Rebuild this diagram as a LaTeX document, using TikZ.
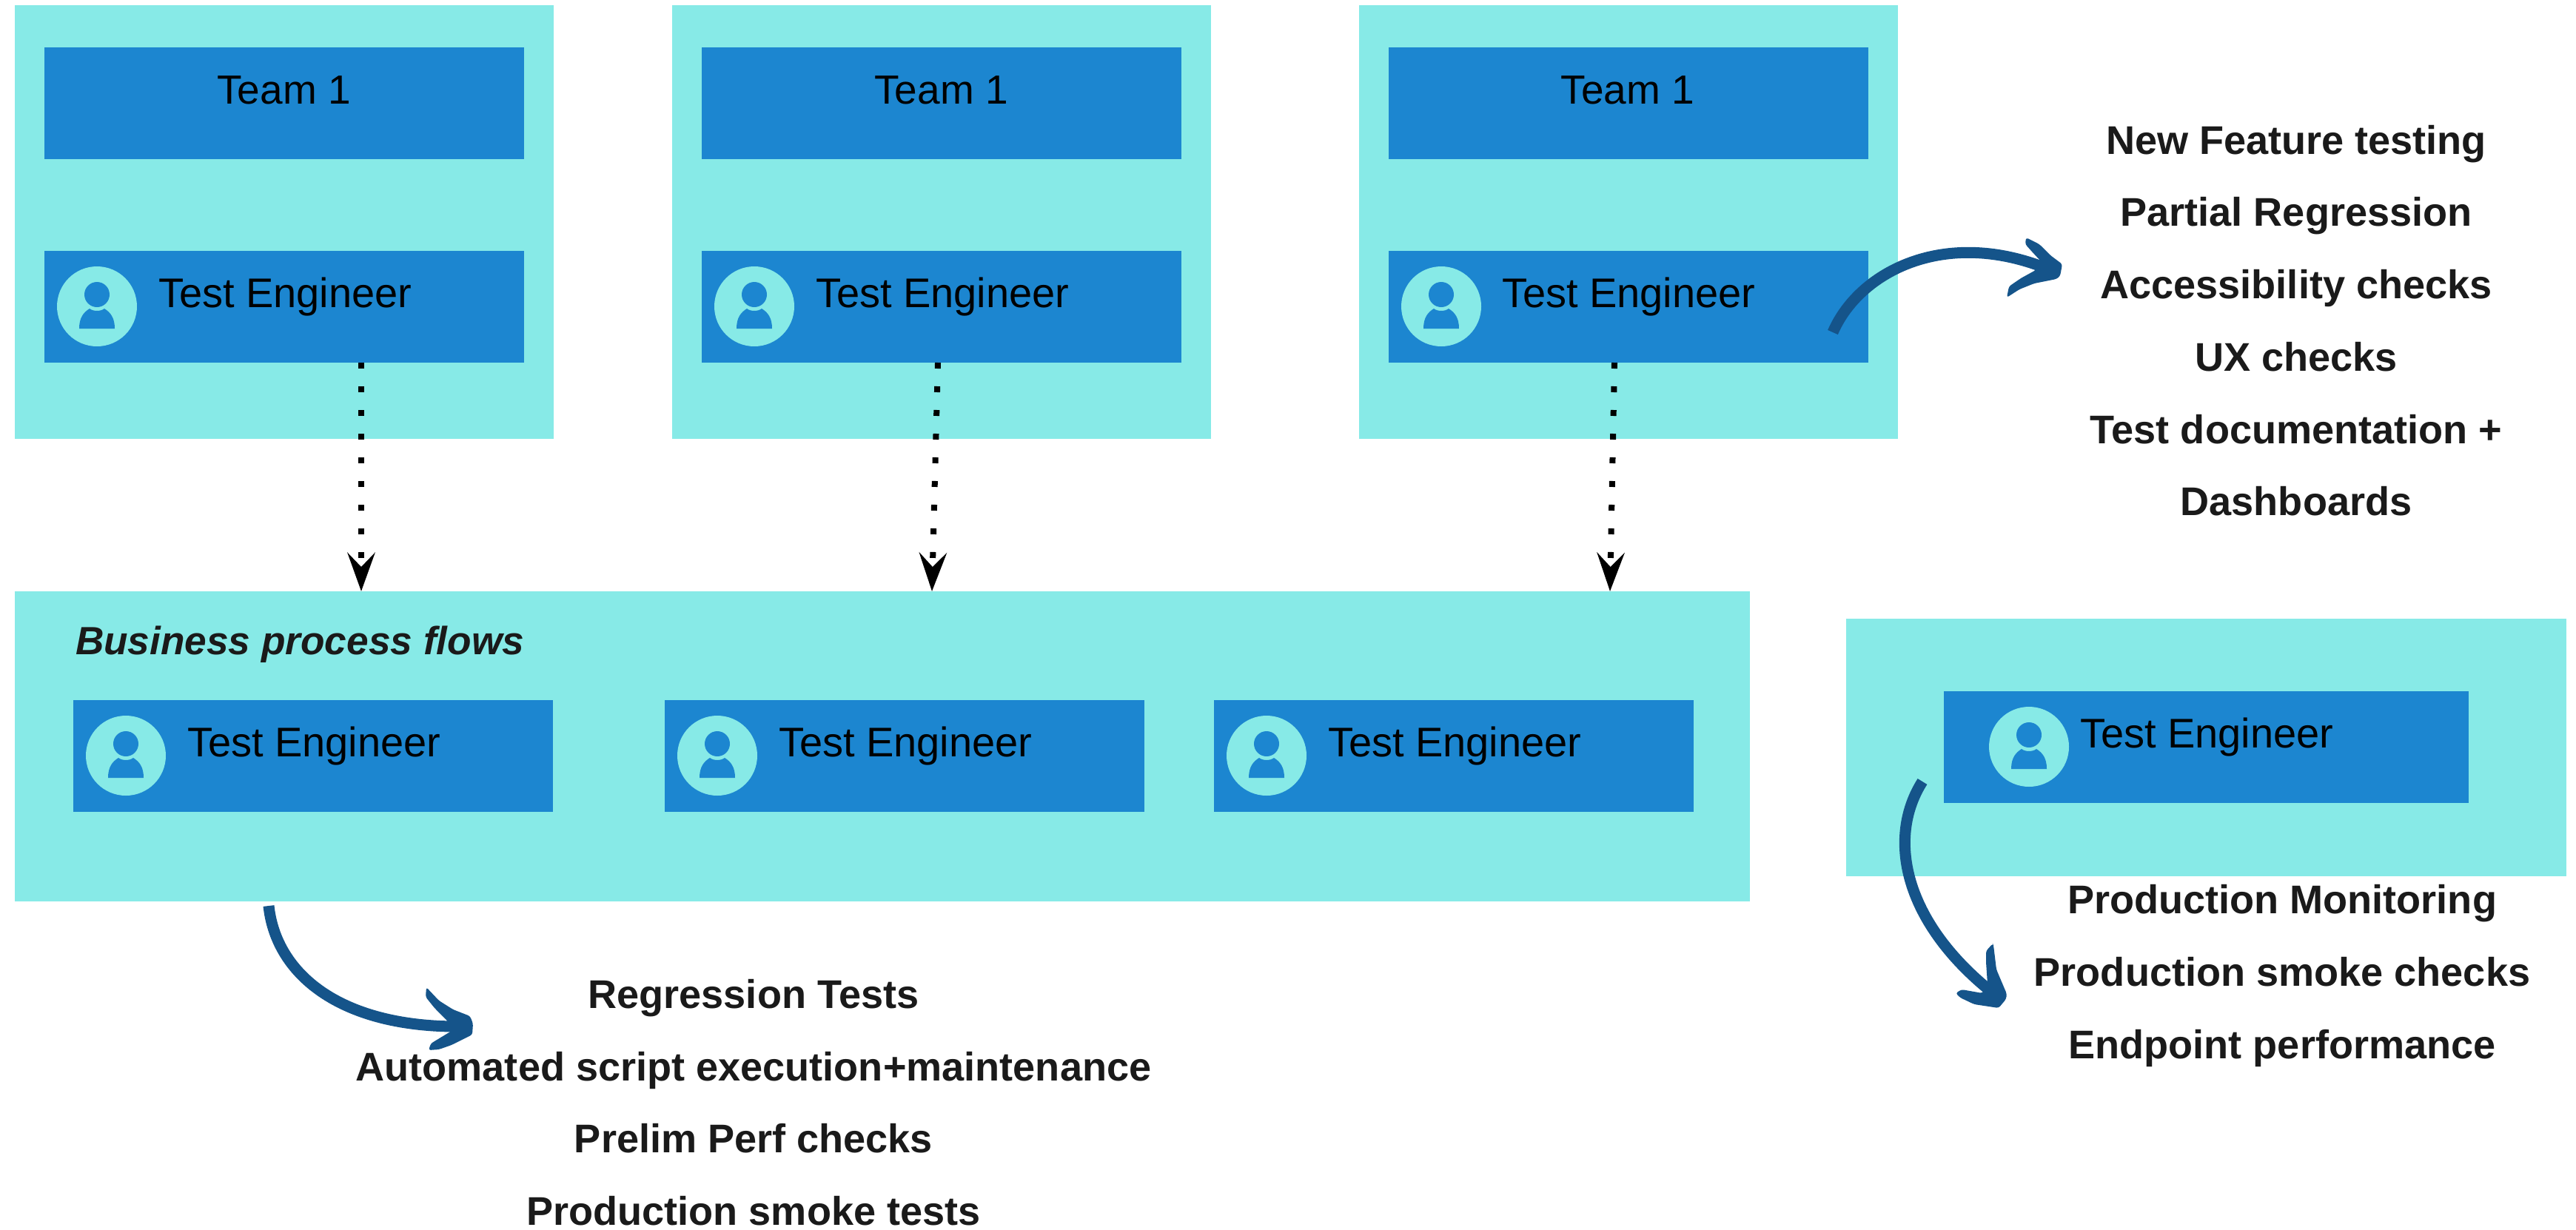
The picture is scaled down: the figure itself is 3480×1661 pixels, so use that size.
\documentclass[tikz,border=0pt]{standalone}
\usepackage{fontspec}
\setmainfont{Liberation Sans}
\usetikzlibrary{arrows.meta}
\definecolor{panelteal}{HTML}{87EAE7}
\definecolor{boxblue}{HTML}{1C86D0}
\definecolor{brushblue}{HTML}{15548A}
\definecolor{inkdark}{HTML}{1A1A1A}
\tikzset{
  panel/.style={rectangle,fill=panelteal,draw=none,inner sep=0pt,outer sep=0pt},
  bluebox/.style={rectangle,fill=boxblue,draw=none,inner sep=0pt,outer sep=0pt},
  avatarcircle/.style={circle,fill=panelteal,draw=none,inner sep=0pt,outer sep=0pt,minimum size=54pt},
  rolelabel/.style={anchor=base west,inner sep=0pt,outer sep=0pt,text=black,font=\fontsize{28}{33}\selectfont},
  teamlabel/.style={anchor=base,inner sep=0pt,outer sep=0pt,text=black,font=\fontsize{27.5}{33}\selectfont},
  tasklabel/.style={anchor=base,inner sep=0pt,outer sep=0pt,text=inkdark,font=\fontsize{27.05}{33}\selectfont\bfseries},
  flowlabel/.style={anchor=base west,inner sep=0pt,outer sep=0pt,text=inkdark,font=\fontsize{26.6}{32}\selectfont\bfseries\itshape},
  dotlink/.style={line width=4pt,dash pattern=on 4pt off 12pt,black,-{Stealth[length=26pt,width=18.5pt,inset=9.5pt]}},
  brushshaft/.style={line width=7.5pt,brushblue,line cap=butt},
  brushhead/.style={fill=brushblue,draw=none,rounded corners=1.5pt}
}
% rectangle node from corner to corner, in reference pixels
\newcommand\rectat[6]{\node[#2,minimum width={(#5-#3)*0.5pt},minimum height={(#6-#4)*0.5pt}] (#1) at ({(#3+#5)/2},{(#4+#6)/2}) {};}
\newcommand\avatarat[3]{%
  \node[avatarcircle] (#1) at (#2,#3) {};
  \begin{scope}[shift={(#2,#3)}]
    \fill[boxblue] (0,-16) ellipse [x radius=17,y radius=17];
    \fill[boxblue] (-24,30) .. controls (-24,15) and (-18,8) .. (-10,3)
      .. controls (-5,7) and (5,7) .. (10,3)
      .. controls (18,8) and (24,15) .. (24,30) -- cycle;
  \end{scope}}
% id, left, top, right, avatar offset, text offset
\newcommand\engineerat[6]{%
  \rectat{#1}{bluebox}{#2}{#3}{#4}{#3+151}
  \avatarat{#1av}{#2+#5}{#3+75}
  \node[rolelabel] (#1tx) at (#2+#6,#3+76) {Test Engineer};}
\begin{document}
\begin{tikzpicture}[x=0.5pt,y=-0.5pt]
\useasboundingbox (0,0) rectangle (3480,1661);
% top panels
\rectat{p1}{panel}{20}{7}{748}{593}
\rectat{p2}{panel}{908}{7}{1636}{593}
\rectat{p3}{panel}{1836}{7}{2564}{593}
\rectat{t1}{bluebox}{60}{64}{708}{215}
\rectat{t2}{bluebox}{948}{64}{1596}{215}
\rectat{t3}{bluebox}{1876}{64}{2524}{215}
\node[teamlabel] (t1tx) at (383.5,140) {Team 1};
\node[teamlabel] (t2tx) at (1271.5,140) {Team 1};
\node[teamlabel] (t3tx) at (2199,140) {Team 1};
\engineerat{e1}{60}{339}{708}{71}{154}
\engineerat{e2}{948}{339}{1596}{71}{154}
\engineerat{e3}{1876}{339}{2524}{71}{153}
% flow panel
\rectat{flow}{panel}{20}{799}{2364}{1218}
\node[flowlabel] (flowtx) at (102,884) {Business process flows};
\engineerat{f1}{99}{946}{747}{71}{154}
\engineerat{f2}{898}{946}{1546}{71}{154}
\engineerat{f3}{1640}{946}{2288}{71}{154}
% production panel
\rectat{prod}{panel}{2494}{836}{3467}{1184}
\engineerat{g1}{2626}{934}{3335}{115}{184}
% dotted links
\coordinate (d1s) at (488,490); \coordinate (d1e) at (488,799);
\coordinate (d2s) at (1267,490); \coordinate (d2e) at (1259,799);
\coordinate (d3s) at (2181,490); \coordinate (d3e) at (2175,799);
\draw[dotlink] (d1s) -- (d1e);
\draw[dotlink] (d2s) -- (d2e);
\draw[dotlink] (d3s) -- (d3e);
% brush arrow: third team
\coordinate (a1s) at (2476,449); \coordinate (a1e) at (2755,359);
\draw[brushshaft] (a1s) .. controls (2510,370) and (2620,310) .. (a1e);
\fill[brushhead] (2757,353) -- (2745,340) -- (2736,330) -- (2737,321) -- (2755,330) -- (2770,345) -- (2786,357) -- (2783,373) -- (2778,377) -- (2748,383) -- (2728,391) -- (2711,402) -- (2714,387) -- (2730,376) -- (2750,365) -- cycle;
% brush arrow: flows
\coordinate (a2s) at (363,1224); \coordinate (a2e) at (612,1387);
\draw[brushshaft] (a2s) .. controls (372,1310) and (450,1385) .. (a2e);
\fill[brushhead] (605,1380) -- (587,1362) -- (575,1347) -- (576,1334) -- (593,1352) -- (612,1364) -- (635,1373) -- (639,1383) -- (638,1398) -- (610,1412) -- (593,1418) -- (579,1419) -- (582,1410) -- (610,1393) -- cycle;
% brush arrow: production
\coordinate (a3s) at (2597,1056); \coordinate (a3e) at (2684,1335);
\draw[brushshaft] (a3s) .. controls (2550,1130) and (2570,1240) .. (a3e);
\fill[brushhead] (2685,1330) -- (2683,1300) -- (2683,1285) -- (2692,1275) -- (2693,1277) -- (2697,1310) -- (2711,1343) -- (2710,1350) -- (2700,1362) -- (2667,1357) -- (2648,1348) -- (2642,1342) -- (2650,1337) -- (2678,1342) -- cycle;
% task lists
\node[tasklabel] (r1) at (3102,208) {New Feature testing};
\node[tasklabel] (r2) at (3102,305) {Partial Regression};
\node[tasklabel] (r3) at (3102,403) {Accessibility checks};
\node[tasklabel] (r4) at (3102,501) {UX checks};
\node[tasklabel] (r5) at (3102,599) {Test documentation +};
\node[tasklabel] (r6) at (3102,696) {Dashboards};
\node[tasklabel] (b1) at (1018,1362) {Regression Tests};
\node[tasklabel] (b2) at (1018,1460) {Automated script execution+maintenance};
\node[tasklabel] (b3) at (1018,1557) {Prelim Perf checks};
\node[tasklabel] (b4) at (1018,1655) {Production smoke tests};
\node[tasklabel] (m1) at (3083,1234) {Production Monitoring};
\node[tasklabel] (m2) at (3083,1332) {Production smoke checks};
\node[tasklabel] (m3) at (3083,1430) {Endpoint performance};
\end{tikzpicture}
\end{document}
